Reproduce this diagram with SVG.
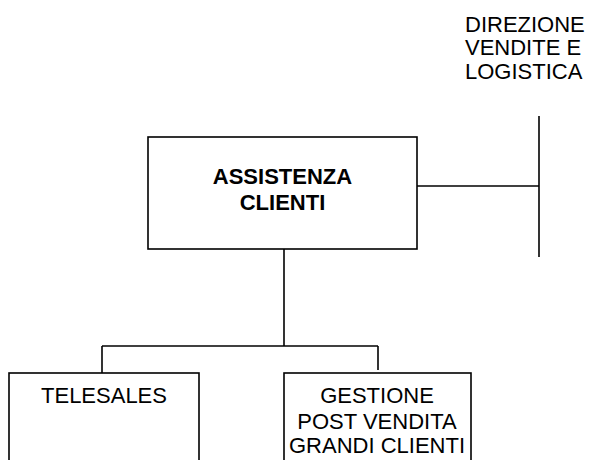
<svg xmlns="http://www.w3.org/2000/svg" width="596" height="460" viewBox="0 0 596 460">
<style>
.box{fill:#fff;stroke:#000;stroke-width:1.6}
.ln{stroke:#000;stroke-width:1.6;fill:none}
text{font-family:"Liberation Sans",Arial,sans-serif;font-size:22px;fill:#000}
.b{font-weight:bold}
.c{text-anchor:middle}
</style>
<rect width="596" height="460" fill="#fff"/>
<g id="connectors">
<line class="ln" x1="417" y1="186" x2="539" y2="186"/>
<line class="ln" x1="539" y1="116" x2="539" y2="257"/>
<line class="ln" x1="284" y1="249" x2="284" y2="346"/>
<line class="ln" x1="102" y1="346" x2="378" y2="346"/>
<line class="ln" x1="102" y1="346" x2="102" y2="373"/>
<line class="ln" x1="378" y1="346" x2="378" y2="370"/>
</g>
<g id="direzione">
<text x="465" y="32">DIREZIONE</text>
<text x="465" y="55">VENDITE E</text>
<text x="465" y="79">LOGISTICA</text>
</g>
<g id="assistenza">
<rect class="box" x="148" y="137" width="269" height="112"/>
<text class="b c" x="282.5" y="184">ASSISTENZA</text>
<text class="b c" x="282.5" y="210">CLIENTI</text>
</g>
<g id="telesales">
<rect class="box" x="9" y="373" width="190" height="100"/>
<text class="c" x="104" y="403">TELESALES</text>
</g>
<g id="gestione">
<rect class="box" x="284" y="373" width="187" height="100"/>
<text class="c" x="377" y="403">GESTIONE</text>
<text class="c" x="377" y="429">POST VENDITA</text>
<text class="c" x="377" y="453">GRANDI CLIENTI</text>
</g>
</svg>
